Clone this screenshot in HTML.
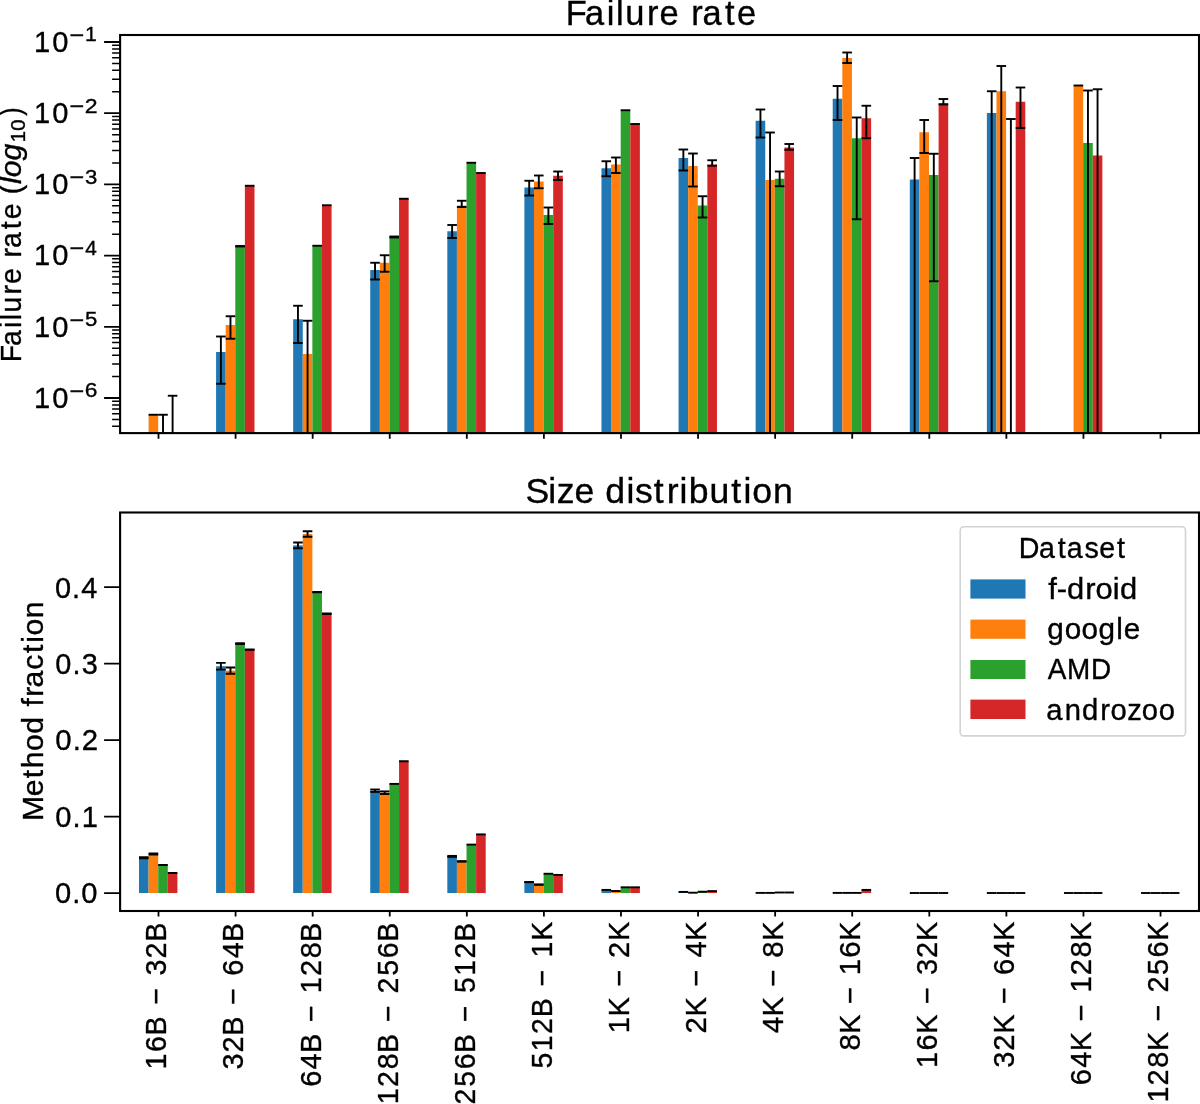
<!DOCTYPE html><html><head><meta charset="utf-8"><style>html,body{margin:0;padding:0;background:#fff;}svg{display:block;will-change:transform;}text{font-family:"Liberation Sans",sans-serif;font-kerning:none;fill:#000;stroke:#000;stroke-width:0.35px;}</style></head><body>
<svg width="1200" height="1104" viewBox="0 0 1200 1104">
<rect width="1200" height="1104" fill="#fff"/>
<defs><clipPath id="ct"><rect x="120.1" y="35.0" width="1078.9" height="398.1"/></clipPath><clipPath id="cb"><rect x="120.1" y="512.5" width="1078.9" height="398.5"/></clipPath></defs>
<g clip-path="url(#ct)">
<rect x="148.60" y="414.75" width="9.6" height="23.35" fill="#ff7f0e"/>
<rect x="216.08" y="352.00" width="9.6" height="86.10" fill="#1f77b4"/>
<rect x="225.68" y="325.00" width="9.6" height="113.10" fill="#ff7f0e"/>
<rect x="235.28" y="246.25" width="9.6" height="191.85" fill="#2ca02c"/>
<rect x="244.88" y="185.75" width="9.6" height="252.35" fill="#d62728"/>
<rect x="293.16" y="319.25" width="9.6" height="118.85" fill="#1f77b4"/>
<rect x="302.76" y="354.00" width="9.6" height="84.10" fill="#ff7f0e"/>
<rect x="312.36" y="245.75" width="9.6" height="192.35" fill="#2ca02c"/>
<rect x="321.96" y="205.25" width="9.6" height="232.85" fill="#d62728"/>
<rect x="370.24" y="270.00" width="9.6" height="168.10" fill="#1f77b4"/>
<rect x="379.84" y="262.75" width="9.6" height="175.35" fill="#ff7f0e"/>
<rect x="389.44" y="237.00" width="9.6" height="201.10" fill="#2ca02c"/>
<rect x="399.04" y="198.75" width="9.6" height="239.35" fill="#d62728"/>
<rect x="447.32" y="231.25" width="9.6" height="206.85" fill="#1f77b4"/>
<rect x="456.92" y="205.50" width="9.6" height="232.60" fill="#ff7f0e"/>
<rect x="466.52" y="162.75" width="9.6" height="275.35" fill="#2ca02c"/>
<rect x="476.12" y="173.00" width="9.6" height="265.10" fill="#d62728"/>
<rect x="524.40" y="187.50" width="9.6" height="250.60" fill="#1f77b4"/>
<rect x="534.00" y="181.50" width="9.6" height="256.60" fill="#ff7f0e"/>
<rect x="543.60" y="215.00" width="9.6" height="223.10" fill="#2ca02c"/>
<rect x="553.20" y="175.75" width="9.6" height="262.35" fill="#d62728"/>
<rect x="601.48" y="168.25" width="9.6" height="269.85" fill="#1f77b4"/>
<rect x="611.08" y="164.50" width="9.6" height="273.60" fill="#ff7f0e"/>
<rect x="620.68" y="110.25" width="9.6" height="327.85" fill="#2ca02c"/>
<rect x="630.28" y="124.00" width="9.6" height="314.10" fill="#d62728"/>
<rect x="678.56" y="158.00" width="9.6" height="280.10" fill="#1f77b4"/>
<rect x="688.16" y="166.00" width="9.6" height="272.10" fill="#ff7f0e"/>
<rect x="697.76" y="205.50" width="9.6" height="232.60" fill="#2ca02c"/>
<rect x="707.36" y="164.50" width="9.6" height="273.60" fill="#d62728"/>
<rect x="755.64" y="120.75" width="9.6" height="317.35" fill="#1f77b4"/>
<rect x="765.24" y="180.00" width="9.6" height="258.10" fill="#ff7f0e"/>
<rect x="774.84" y="178.75" width="9.6" height="259.35" fill="#2ca02c"/>
<rect x="784.44" y="147.50" width="9.6" height="290.60" fill="#d62728"/>
<rect x="832.72" y="98.75" width="9.6" height="339.35" fill="#1f77b4"/>
<rect x="842.32" y="58.00" width="9.6" height="380.10" fill="#ff7f0e"/>
<rect x="851.92" y="138.25" width="9.6" height="299.85" fill="#2ca02c"/>
<rect x="861.52" y="118.25" width="9.6" height="319.85" fill="#d62728"/>
<rect x="909.80" y="179.50" width="9.6" height="258.60" fill="#1f77b4"/>
<rect x="919.40" y="132.25" width="9.6" height="305.85" fill="#ff7f0e"/>
<rect x="929.00" y="175.00" width="9.6" height="263.10" fill="#2ca02c"/>
<rect x="938.60" y="103.00" width="9.6" height="335.10" fill="#d62728"/>
<rect x="986.88" y="113.00" width="9.6" height="325.10" fill="#1f77b4"/>
<rect x="996.48" y="91.25" width="9.6" height="346.85" fill="#ff7f0e"/>
<rect x="1015.68" y="101.75" width="9.6" height="336.35" fill="#d62728"/>
<rect x="1073.56" y="85.50" width="9.6" height="352.60" fill="#ff7f0e"/>
<rect x="1083.16" y="143.00" width="9.6" height="295.10" fill="#2ca02c"/>
<rect x="1092.76" y="155.50" width="9.6" height="282.60" fill="#d62728"/>
<line x1="148.60" y1="414.75" x2="158.20" y2="414.75" stroke="#000" stroke-width="1.9"/>
<line x1="163.00" y1="414.75" x2="163.00" y2="438.10" stroke="#000" stroke-width="1.9"/>
<line x1="158.20" y1="414.75" x2="167.80" y2="414.75" stroke="#000" stroke-width="1.9"/>
<line x1="172.60" y1="395.75" x2="172.60" y2="438.10" stroke="#000" stroke-width="1.9"/>
<line x1="167.80" y1="395.75" x2="177.40" y2="395.75" stroke="#000" stroke-width="1.9"/>
<line x1="220.88" y1="336.50" x2="220.88" y2="383.75" stroke="#000" stroke-width="1.9"/>
<line x1="216.08" y1="336.50" x2="225.68" y2="336.50" stroke="#000" stroke-width="1.9"/>
<line x1="216.08" y1="383.75" x2="225.68" y2="383.75" stroke="#000" stroke-width="1.9"/>
<line x1="230.48" y1="316.25" x2="230.48" y2="338.75" stroke="#000" stroke-width="1.9"/>
<line x1="225.68" y1="316.25" x2="235.28" y2="316.25" stroke="#000" stroke-width="1.9"/>
<line x1="225.68" y1="338.75" x2="235.28" y2="338.75" stroke="#000" stroke-width="1.9"/>
<line x1="235.28" y1="246.00" x2="244.88" y2="246.00" stroke="#000" stroke-width="1.9"/>
<line x1="235.28" y1="246.50" x2="244.88" y2="246.50" stroke="#000" stroke-width="1.9"/>
<line x1="244.88" y1="185.75" x2="254.48" y2="185.75" stroke="#000" stroke-width="1.9"/>
<line x1="297.96" y1="305.75" x2="297.96" y2="343.00" stroke="#000" stroke-width="1.9"/>
<line x1="293.16" y1="305.75" x2="302.76" y2="305.75" stroke="#000" stroke-width="1.9"/>
<line x1="293.16" y1="343.00" x2="302.76" y2="343.00" stroke="#000" stroke-width="1.9"/>
<line x1="307.56" y1="320.75" x2="307.56" y2="438.10" stroke="#000" stroke-width="1.9"/>
<line x1="302.76" y1="320.75" x2="312.36" y2="320.75" stroke="#000" stroke-width="1.9"/>
<line x1="312.36" y1="245.75" x2="321.96" y2="245.75" stroke="#000" stroke-width="1.9"/>
<line x1="321.96" y1="205.25" x2="331.56" y2="205.25" stroke="#000" stroke-width="1.9"/>
<line x1="375.04" y1="262.75" x2="375.04" y2="279.50" stroke="#000" stroke-width="1.9"/>
<line x1="370.24" y1="262.75" x2="379.84" y2="262.75" stroke="#000" stroke-width="1.9"/>
<line x1="370.24" y1="279.50" x2="379.84" y2="279.50" stroke="#000" stroke-width="1.9"/>
<line x1="384.64" y1="255.25" x2="384.64" y2="271.75" stroke="#000" stroke-width="1.9"/>
<line x1="379.84" y1="255.25" x2="389.44" y2="255.25" stroke="#000" stroke-width="1.9"/>
<line x1="379.84" y1="271.75" x2="389.44" y2="271.75" stroke="#000" stroke-width="1.9"/>
<line x1="394.24" y1="236.50" x2="394.24" y2="237.50" stroke="#000" stroke-width="1.9"/>
<line x1="389.44" y1="236.50" x2="399.04" y2="236.50" stroke="#000" stroke-width="1.9"/>
<line x1="389.44" y1="237.50" x2="399.04" y2="237.50" stroke="#000" stroke-width="1.9"/>
<line x1="399.04" y1="198.75" x2="408.64" y2="198.75" stroke="#000" stroke-width="1.9"/>
<line x1="452.12" y1="225.00" x2="452.12" y2="238.00" stroke="#000" stroke-width="1.9"/>
<line x1="447.32" y1="225.00" x2="456.92" y2="225.00" stroke="#000" stroke-width="1.9"/>
<line x1="447.32" y1="238.00" x2="456.92" y2="238.00" stroke="#000" stroke-width="1.9"/>
<line x1="461.72" y1="200.75" x2="461.72" y2="207.00" stroke="#000" stroke-width="1.9"/>
<line x1="456.92" y1="200.75" x2="466.52" y2="200.75" stroke="#000" stroke-width="1.9"/>
<line x1="456.92" y1="207.00" x2="466.52" y2="207.00" stroke="#000" stroke-width="1.9"/>
<line x1="466.52" y1="162.75" x2="476.12" y2="162.75" stroke="#000" stroke-width="1.9"/>
<line x1="476.12" y1="173.00" x2="485.72" y2="173.00" stroke="#000" stroke-width="1.9"/>
<line x1="529.20" y1="180.75" x2="529.20" y2="195.50" stroke="#000" stroke-width="1.9"/>
<line x1="524.40" y1="180.75" x2="534.00" y2="180.75" stroke="#000" stroke-width="1.9"/>
<line x1="524.40" y1="195.50" x2="534.00" y2="195.50" stroke="#000" stroke-width="1.9"/>
<line x1="538.80" y1="175.50" x2="538.80" y2="188.25" stroke="#000" stroke-width="1.9"/>
<line x1="534.00" y1="175.50" x2="543.60" y2="175.50" stroke="#000" stroke-width="1.9"/>
<line x1="534.00" y1="188.25" x2="543.60" y2="188.25" stroke="#000" stroke-width="1.9"/>
<line x1="548.40" y1="207.50" x2="548.40" y2="224.00" stroke="#000" stroke-width="1.9"/>
<line x1="543.60" y1="207.50" x2="553.20" y2="207.50" stroke="#000" stroke-width="1.9"/>
<line x1="543.60" y1="224.00" x2="553.20" y2="224.00" stroke="#000" stroke-width="1.9"/>
<line x1="558.00" y1="171.50" x2="558.00" y2="180.00" stroke="#000" stroke-width="1.9"/>
<line x1="553.20" y1="171.50" x2="562.80" y2="171.50" stroke="#000" stroke-width="1.9"/>
<line x1="553.20" y1="180.00" x2="562.80" y2="180.00" stroke="#000" stroke-width="1.9"/>
<line x1="606.28" y1="161.25" x2="606.28" y2="176.25" stroke="#000" stroke-width="1.9"/>
<line x1="601.48" y1="161.25" x2="611.08" y2="161.25" stroke="#000" stroke-width="1.9"/>
<line x1="601.48" y1="176.25" x2="611.08" y2="176.25" stroke="#000" stroke-width="1.9"/>
<line x1="615.88" y1="157.50" x2="615.88" y2="173.00" stroke="#000" stroke-width="1.9"/>
<line x1="611.08" y1="157.50" x2="620.68" y2="157.50" stroke="#000" stroke-width="1.9"/>
<line x1="611.08" y1="173.00" x2="620.68" y2="173.00" stroke="#000" stroke-width="1.9"/>
<line x1="620.68" y1="110.25" x2="630.28" y2="110.25" stroke="#000" stroke-width="1.9"/>
<line x1="630.28" y1="124.00" x2="639.88" y2="124.00" stroke="#000" stroke-width="1.9"/>
<line x1="683.36" y1="149.50" x2="683.36" y2="170.50" stroke="#000" stroke-width="1.9"/>
<line x1="678.56" y1="149.50" x2="688.16" y2="149.50" stroke="#000" stroke-width="1.9"/>
<line x1="678.56" y1="170.50" x2="688.16" y2="170.50" stroke="#000" stroke-width="1.9"/>
<line x1="692.96" y1="153.50" x2="692.96" y2="186.50" stroke="#000" stroke-width="1.9"/>
<line x1="688.16" y1="153.50" x2="697.76" y2="153.50" stroke="#000" stroke-width="1.9"/>
<line x1="688.16" y1="186.50" x2="697.76" y2="186.50" stroke="#000" stroke-width="1.9"/>
<line x1="702.56" y1="196.25" x2="702.56" y2="217.50" stroke="#000" stroke-width="1.9"/>
<line x1="697.76" y1="196.25" x2="707.36" y2="196.25" stroke="#000" stroke-width="1.9"/>
<line x1="697.76" y1="217.50" x2="707.36" y2="217.50" stroke="#000" stroke-width="1.9"/>
<line x1="712.16" y1="160.25" x2="712.16" y2="165.75" stroke="#000" stroke-width="1.9"/>
<line x1="707.36" y1="160.25" x2="716.96" y2="160.25" stroke="#000" stroke-width="1.9"/>
<line x1="707.36" y1="165.75" x2="716.96" y2="165.75" stroke="#000" stroke-width="1.9"/>
<line x1="760.44" y1="109.50" x2="760.44" y2="137.50" stroke="#000" stroke-width="1.9"/>
<line x1="755.64" y1="109.50" x2="765.24" y2="109.50" stroke="#000" stroke-width="1.9"/>
<line x1="755.64" y1="137.50" x2="765.24" y2="137.50" stroke="#000" stroke-width="1.9"/>
<line x1="770.04" y1="132.50" x2="770.04" y2="438.10" stroke="#000" stroke-width="1.9"/>
<line x1="765.24" y1="132.50" x2="774.84" y2="132.50" stroke="#000" stroke-width="1.9"/>
<line x1="779.64" y1="171.50" x2="779.64" y2="186.25" stroke="#000" stroke-width="1.9"/>
<line x1="774.84" y1="171.50" x2="784.44" y2="171.50" stroke="#000" stroke-width="1.9"/>
<line x1="774.84" y1="186.25" x2="784.44" y2="186.25" stroke="#000" stroke-width="1.9"/>
<line x1="789.24" y1="144.00" x2="789.24" y2="149.75" stroke="#000" stroke-width="1.9"/>
<line x1="784.44" y1="144.00" x2="794.04" y2="144.00" stroke="#000" stroke-width="1.9"/>
<line x1="784.44" y1="149.75" x2="794.04" y2="149.75" stroke="#000" stroke-width="1.9"/>
<line x1="837.52" y1="86.00" x2="837.52" y2="120.00" stroke="#000" stroke-width="1.9"/>
<line x1="832.72" y1="86.00" x2="842.32" y2="86.00" stroke="#000" stroke-width="1.9"/>
<line x1="832.72" y1="120.00" x2="842.32" y2="120.00" stroke="#000" stroke-width="1.9"/>
<line x1="847.12" y1="52.50" x2="847.12" y2="63.00" stroke="#000" stroke-width="1.9"/>
<line x1="842.32" y1="52.50" x2="851.92" y2="52.50" stroke="#000" stroke-width="1.9"/>
<line x1="842.32" y1="63.00" x2="851.92" y2="63.00" stroke="#000" stroke-width="1.9"/>
<line x1="856.72" y1="117.50" x2="856.72" y2="219.25" stroke="#000" stroke-width="1.9"/>
<line x1="851.92" y1="117.50" x2="861.52" y2="117.50" stroke="#000" stroke-width="1.9"/>
<line x1="851.92" y1="219.25" x2="861.52" y2="219.25" stroke="#000" stroke-width="1.9"/>
<line x1="866.32" y1="105.75" x2="866.32" y2="138.25" stroke="#000" stroke-width="1.9"/>
<line x1="861.52" y1="105.75" x2="871.12" y2="105.75" stroke="#000" stroke-width="1.9"/>
<line x1="861.52" y1="138.25" x2="871.12" y2="138.25" stroke="#000" stroke-width="1.9"/>
<line x1="914.60" y1="158.00" x2="914.60" y2="438.10" stroke="#000" stroke-width="1.9"/>
<line x1="909.80" y1="158.00" x2="919.40" y2="158.00" stroke="#000" stroke-width="1.9"/>
<line x1="924.20" y1="120.00" x2="924.20" y2="153.00" stroke="#000" stroke-width="1.9"/>
<line x1="919.40" y1="120.00" x2="929.00" y2="120.00" stroke="#000" stroke-width="1.9"/>
<line x1="919.40" y1="153.00" x2="929.00" y2="153.00" stroke="#000" stroke-width="1.9"/>
<line x1="933.80" y1="153.75" x2="933.80" y2="281.25" stroke="#000" stroke-width="1.9"/>
<line x1="929.00" y1="153.75" x2="938.60" y2="153.75" stroke="#000" stroke-width="1.9"/>
<line x1="929.00" y1="281.25" x2="938.60" y2="281.25" stroke="#000" stroke-width="1.9"/>
<line x1="943.40" y1="99.00" x2="943.40" y2="104.50" stroke="#000" stroke-width="1.9"/>
<line x1="938.60" y1="99.00" x2="948.20" y2="99.00" stroke="#000" stroke-width="1.9"/>
<line x1="938.60" y1="104.50" x2="948.20" y2="104.50" stroke="#000" stroke-width="1.9"/>
<line x1="991.68" y1="91.25" x2="991.68" y2="438.10" stroke="#000" stroke-width="1.9"/>
<line x1="986.88" y1="91.25" x2="996.48" y2="91.25" stroke="#000" stroke-width="1.9"/>
<line x1="1001.28" y1="66.00" x2="1001.28" y2="438.10" stroke="#000" stroke-width="1.9"/>
<line x1="996.48" y1="66.00" x2="1006.08" y2="66.00" stroke="#000" stroke-width="1.9"/>
<line x1="1010.88" y1="119.00" x2="1010.88" y2="438.10" stroke="#000" stroke-width="1.9"/>
<line x1="1006.08" y1="119.00" x2="1015.68" y2="119.00" stroke="#000" stroke-width="1.9"/>
<line x1="1020.48" y1="87.50" x2="1020.48" y2="128.00" stroke="#000" stroke-width="1.9"/>
<line x1="1015.68" y1="87.50" x2="1025.28" y2="87.50" stroke="#000" stroke-width="1.9"/>
<line x1="1015.68" y1="128.00" x2="1025.28" y2="128.00" stroke="#000" stroke-width="1.9"/>
<line x1="1073.56" y1="85.50" x2="1083.16" y2="85.50" stroke="#000" stroke-width="1.9"/>
<line x1="1087.96" y1="90.50" x2="1087.96" y2="438.10" stroke="#000" stroke-width="1.9"/>
<line x1="1083.16" y1="90.50" x2="1092.76" y2="90.50" stroke="#000" stroke-width="1.9"/>
<line x1="1097.56" y1="89.25" x2="1097.56" y2="438.10" stroke="#000" stroke-width="1.9"/>
<line x1="1092.76" y1="89.25" x2="1102.36" y2="89.25" stroke="#000" stroke-width="1.9"/>
</g>
<g clip-path="url(#cb)">
<rect x="139.00" y="857.80" width="9.6" height="35.24" fill="#1f77b4"/>
<rect x="148.60" y="854.00" width="9.6" height="39.04" fill="#ff7f0e"/>
<rect x="158.20" y="865.00" width="9.6" height="28.04" fill="#2ca02c"/>
<rect x="167.80" y="873.00" width="9.6" height="20.04" fill="#d62728"/>
<rect x="216.08" y="666.25" width="9.6" height="226.79" fill="#1f77b4"/>
<rect x="225.68" y="670.60" width="9.6" height="222.44" fill="#ff7f0e"/>
<rect x="235.28" y="643.60" width="9.6" height="249.44" fill="#2ca02c"/>
<rect x="244.88" y="649.60" width="9.6" height="243.44" fill="#d62728"/>
<rect x="293.16" y="545.40" width="9.6" height="347.64" fill="#1f77b4"/>
<rect x="302.76" y="534.00" width="9.6" height="359.04" fill="#ff7f0e"/>
<rect x="312.36" y="592.20" width="9.6" height="300.84" fill="#2ca02c"/>
<rect x="321.96" y="613.75" width="9.6" height="279.29" fill="#d62728"/>
<rect x="370.24" y="790.70" width="9.6" height="102.34" fill="#1f77b4"/>
<rect x="379.84" y="792.70" width="9.6" height="100.34" fill="#ff7f0e"/>
<rect x="389.44" y="783.90" width="9.6" height="109.14" fill="#2ca02c"/>
<rect x="399.04" y="761.20" width="9.6" height="131.84" fill="#d62728"/>
<rect x="447.32" y="856.40" width="9.6" height="36.64" fill="#1f77b4"/>
<rect x="456.92" y="861.40" width="9.6" height="31.64" fill="#ff7f0e"/>
<rect x="466.52" y="844.60" width="9.6" height="48.44" fill="#2ca02c"/>
<rect x="476.12" y="834.40" width="9.6" height="58.64" fill="#d62728"/>
<rect x="524.40" y="882.10" width="9.6" height="10.94" fill="#1f77b4"/>
<rect x="534.00" y="884.60" width="9.6" height="8.44" fill="#ff7f0e"/>
<rect x="543.60" y="873.75" width="9.6" height="19.29" fill="#2ca02c"/>
<rect x="553.20" y="874.90" width="9.6" height="18.14" fill="#d62728"/>
<rect x="601.48" y="889.90" width="9.6" height="3.14" fill="#1f77b4"/>
<rect x="611.08" y="891.00" width="9.6" height="2.04" fill="#ff7f0e"/>
<rect x="620.68" y="887.30" width="9.6" height="5.74" fill="#2ca02c"/>
<rect x="630.28" y="887.30" width="9.6" height="5.74" fill="#d62728"/>
<rect x="678.56" y="891.90" width="9.6" height="1.14" fill="#1f77b4"/>
<rect x="688.16" y="892.70" width="9.6" height="0.34" fill="#ff7f0e"/>
<rect x="697.76" y="891.70" width="9.6" height="1.34" fill="#2ca02c"/>
<rect x="707.36" y="891.10" width="9.6" height="1.94" fill="#d62728"/>
<rect x="755.64" y="892.90" width="9.6" height="0.14" fill="#1f77b4"/>
<rect x="765.24" y="892.90" width="9.6" height="0.14" fill="#ff7f0e"/>
<rect x="774.84" y="892.50" width="9.6" height="0.54" fill="#2ca02c"/>
<rect x="784.44" y="892.50" width="9.6" height="0.54" fill="#d62728"/>
<rect x="832.72" y="892.90" width="9.6" height="0.14" fill="#1f77b4"/>
<rect x="842.32" y="892.90" width="9.6" height="0.14" fill="#ff7f0e"/>
<rect x="851.92" y="892.90" width="9.6" height="0.14" fill="#2ca02c"/>
<rect x="861.52" y="889.90" width="9.6" height="3.14" fill="#d62728"/>
<line x1="143.80" y1="857.30" x2="143.80" y2="858.30" stroke="#000" stroke-width="1.9"/>
<line x1="139.00" y1="857.30" x2="148.60" y2="857.30" stroke="#000" stroke-width="1.9"/>
<line x1="139.00" y1="858.30" x2="148.60" y2="858.30" stroke="#000" stroke-width="1.9"/>
<line x1="153.40" y1="853.50" x2="153.40" y2="854.50" stroke="#000" stroke-width="1.9"/>
<line x1="148.60" y1="853.50" x2="158.20" y2="853.50" stroke="#000" stroke-width="1.9"/>
<line x1="148.60" y1="854.50" x2="158.20" y2="854.50" stroke="#000" stroke-width="1.9"/>
<line x1="158.20" y1="865.00" x2="167.80" y2="865.00" stroke="#000" stroke-width="1.9"/>
<line x1="167.80" y1="873.00" x2="177.40" y2="873.00" stroke="#000" stroke-width="1.9"/>
<line x1="220.88" y1="662.90" x2="220.88" y2="669.60" stroke="#000" stroke-width="1.9"/>
<line x1="216.08" y1="662.90" x2="225.68" y2="662.90" stroke="#000" stroke-width="1.9"/>
<line x1="216.08" y1="669.60" x2="225.68" y2="669.60" stroke="#000" stroke-width="1.9"/>
<line x1="230.48" y1="667.50" x2="230.48" y2="673.70" stroke="#000" stroke-width="1.9"/>
<line x1="225.68" y1="667.50" x2="235.28" y2="667.50" stroke="#000" stroke-width="1.9"/>
<line x1="225.68" y1="673.70" x2="235.28" y2="673.70" stroke="#000" stroke-width="1.9"/>
<line x1="240.08" y1="643.20" x2="240.08" y2="644.00" stroke="#000" stroke-width="1.9"/>
<line x1="235.28" y1="643.20" x2="244.88" y2="643.20" stroke="#000" stroke-width="1.9"/>
<line x1="235.28" y1="644.00" x2="244.88" y2="644.00" stroke="#000" stroke-width="1.9"/>
<line x1="244.88" y1="649.35" x2="254.48" y2="649.35" stroke="#000" stroke-width="1.9"/>
<line x1="244.88" y1="649.85" x2="254.48" y2="649.85" stroke="#000" stroke-width="1.9"/>
<line x1="297.96" y1="542.50" x2="297.96" y2="548.30" stroke="#000" stroke-width="1.9"/>
<line x1="293.16" y1="542.50" x2="302.76" y2="542.50" stroke="#000" stroke-width="1.9"/>
<line x1="293.16" y1="548.30" x2="302.76" y2="548.30" stroke="#000" stroke-width="1.9"/>
<line x1="307.56" y1="531.25" x2="307.56" y2="536.75" stroke="#000" stroke-width="1.9"/>
<line x1="302.76" y1="531.25" x2="312.36" y2="531.25" stroke="#000" stroke-width="1.9"/>
<line x1="302.76" y1="536.75" x2="312.36" y2="536.75" stroke="#000" stroke-width="1.9"/>
<line x1="312.36" y1="592.05" x2="321.96" y2="592.05" stroke="#000" stroke-width="1.9"/>
<line x1="312.36" y1="592.35" x2="321.96" y2="592.35" stroke="#000" stroke-width="1.9"/>
<line x1="326.76" y1="613.40" x2="326.76" y2="614.10" stroke="#000" stroke-width="1.9"/>
<line x1="321.96" y1="613.40" x2="331.56" y2="613.40" stroke="#000" stroke-width="1.9"/>
<line x1="321.96" y1="614.10" x2="331.56" y2="614.10" stroke="#000" stroke-width="1.9"/>
<line x1="375.04" y1="789.50" x2="375.04" y2="791.90" stroke="#000" stroke-width="1.9"/>
<line x1="370.24" y1="789.50" x2="379.84" y2="789.50" stroke="#000" stroke-width="1.9"/>
<line x1="370.24" y1="791.90" x2="379.84" y2="791.90" stroke="#000" stroke-width="1.9"/>
<line x1="384.64" y1="791.40" x2="384.64" y2="794.00" stroke="#000" stroke-width="1.9"/>
<line x1="379.84" y1="791.40" x2="389.44" y2="791.40" stroke="#000" stroke-width="1.9"/>
<line x1="379.84" y1="794.00" x2="389.44" y2="794.00" stroke="#000" stroke-width="1.9"/>
<line x1="389.44" y1="783.90" x2="399.04" y2="783.90" stroke="#000" stroke-width="1.9"/>
<line x1="399.04" y1="761.20" x2="408.64" y2="761.20" stroke="#000" stroke-width="1.9"/>
<line x1="452.12" y1="855.90" x2="452.12" y2="856.90" stroke="#000" stroke-width="1.9"/>
<line x1="447.32" y1="855.90" x2="456.92" y2="855.90" stroke="#000" stroke-width="1.9"/>
<line x1="447.32" y1="856.90" x2="456.92" y2="856.90" stroke="#000" stroke-width="1.9"/>
<line x1="456.92" y1="861.20" x2="466.52" y2="861.20" stroke="#000" stroke-width="1.9"/>
<line x1="456.92" y1="861.60" x2="466.52" y2="861.60" stroke="#000" stroke-width="1.9"/>
<line x1="466.52" y1="844.60" x2="476.12" y2="844.60" stroke="#000" stroke-width="1.9"/>
<line x1="476.12" y1="834.40" x2="485.72" y2="834.40" stroke="#000" stroke-width="1.9"/>
<line x1="524.40" y1="882.00" x2="534.00" y2="882.00" stroke="#000" stroke-width="1.9"/>
<line x1="524.40" y1="882.20" x2="534.00" y2="882.20" stroke="#000" stroke-width="1.9"/>
<line x1="534.00" y1="884.50" x2="543.60" y2="884.50" stroke="#000" stroke-width="1.9"/>
<line x1="534.00" y1="884.70" x2="543.60" y2="884.70" stroke="#000" stroke-width="1.9"/>
<line x1="543.60" y1="873.75" x2="553.20" y2="873.75" stroke="#000" stroke-width="1.9"/>
<line x1="553.20" y1="874.90" x2="562.80" y2="874.90" stroke="#000" stroke-width="1.9"/>
<line x1="601.48" y1="889.90" x2="611.08" y2="889.90" stroke="#000" stroke-width="1.9"/>
<line x1="611.08" y1="891.00" x2="620.68" y2="891.00" stroke="#000" stroke-width="1.9"/>
<line x1="620.68" y1="887.30" x2="630.28" y2="887.30" stroke="#000" stroke-width="1.9"/>
<line x1="630.28" y1="887.30" x2="639.88" y2="887.30" stroke="#000" stroke-width="1.9"/>
<line x1="678.56" y1="891.90" x2="688.16" y2="891.90" stroke="#000" stroke-width="1.9"/>
<line x1="688.16" y1="892.70" x2="697.76" y2="892.70" stroke="#000" stroke-width="1.9"/>
<line x1="697.76" y1="891.70" x2="707.36" y2="891.70" stroke="#000" stroke-width="1.9"/>
<line x1="707.36" y1="891.10" x2="716.96" y2="891.10" stroke="#000" stroke-width="1.9"/>
<line x1="755.64" y1="892.90" x2="765.24" y2="892.90" stroke="#000" stroke-width="1.9"/>
<line x1="765.24" y1="892.90" x2="774.84" y2="892.90" stroke="#000" stroke-width="1.9"/>
<line x1="774.84" y1="892.50" x2="784.44" y2="892.50" stroke="#000" stroke-width="1.9"/>
<line x1="784.44" y1="892.50" x2="794.04" y2="892.50" stroke="#000" stroke-width="1.9"/>
<line x1="832.72" y1="892.90" x2="842.32" y2="892.90" stroke="#000" stroke-width="1.9"/>
<line x1="842.32" y1="892.90" x2="851.92" y2="892.90" stroke="#000" stroke-width="1.9"/>
<line x1="851.92" y1="892.90" x2="861.52" y2="892.90" stroke="#000" stroke-width="1.9"/>
<line x1="861.52" y1="889.90" x2="871.12" y2="889.90" stroke="#000" stroke-width="1.9"/>
<line x1="909.80" y1="893.00" x2="919.40" y2="893.00" stroke="#000" stroke-width="1.9"/>
<line x1="919.40" y1="893.00" x2="929.00" y2="893.00" stroke="#000" stroke-width="1.9"/>
<line x1="929.00" y1="893.00" x2="938.60" y2="893.00" stroke="#000" stroke-width="1.9"/>
<line x1="938.60" y1="893.00" x2="948.20" y2="893.00" stroke="#000" stroke-width="1.9"/>
<line x1="986.88" y1="893.00" x2="996.48" y2="893.00" stroke="#000" stroke-width="1.9"/>
<line x1="996.48" y1="893.00" x2="1006.08" y2="893.00" stroke="#000" stroke-width="1.9"/>
<line x1="1006.08" y1="893.00" x2="1015.68" y2="893.00" stroke="#000" stroke-width="1.9"/>
<line x1="1015.68" y1="893.00" x2="1025.28" y2="893.00" stroke="#000" stroke-width="1.9"/>
<line x1="1063.96" y1="893.00" x2="1073.56" y2="893.00" stroke="#000" stroke-width="1.9"/>
<line x1="1073.56" y1="893.00" x2="1083.16" y2="893.00" stroke="#000" stroke-width="1.9"/>
<line x1="1083.16" y1="893.00" x2="1092.76" y2="893.00" stroke="#000" stroke-width="1.9"/>
<line x1="1092.76" y1="893.00" x2="1102.36" y2="893.00" stroke="#000" stroke-width="1.9"/>
<line x1="1141.04" y1="893.00" x2="1150.64" y2="893.00" stroke="#000" stroke-width="1.9"/>
<line x1="1150.64" y1="893.00" x2="1160.24" y2="893.00" stroke="#000" stroke-width="1.9"/>
<line x1="1160.24" y1="893.00" x2="1169.84" y2="893.00" stroke="#000" stroke-width="1.9"/>
<line x1="1169.84" y1="893.00" x2="1179.44" y2="893.00" stroke="#000" stroke-width="1.9"/>
</g>
<rect x="120.1" y="35.0" width="1078.9" height="398.1" fill="none" stroke="#000" stroke-width="2.1" stroke-linecap="square"/>
<rect x="120.1" y="512.5" width="1078.9" height="398.5" fill="none" stroke="#000" stroke-width="2.1" stroke-linecap="square"/>
<path d="M104.10 42.00H120.10M104.10 113.20H120.10M104.10 184.40H120.10M104.10 255.60H120.10M104.10 326.80H120.10M104.10 398.00H120.10" stroke="#000" stroke-width="1.8" fill="none"/>
<path d="M112.10 91.77H120.10M112.10 79.23H120.10M112.10 70.33H120.10M112.10 63.43H120.10M112.10 57.80H120.10M112.10 53.03H120.10M112.10 48.90H120.10M112.10 45.26H120.10M112.10 162.97H120.10M112.10 150.43H120.10M112.10 141.53H120.10M112.10 134.63H120.10M112.10 129.00H120.10M112.10 124.23H120.10M112.10 120.10H120.10M112.10 116.46H120.10M112.10 234.17H120.10M112.10 221.63H120.10M112.10 212.73H120.10M112.10 205.83H120.10M112.10 200.20H120.10M112.10 195.43H120.10M112.10 191.30H120.10M112.10 187.66H120.10M112.10 305.37H120.10M112.10 292.83H120.10M112.10 283.93H120.10M112.10 277.03H120.10M112.10 271.40H120.10M112.10 266.63H120.10M112.10 262.50H120.10M112.10 258.86H120.10M112.10 376.57H120.10M112.10 364.03H120.10M112.10 355.13H120.10M112.10 348.23H120.10M112.10 342.60H120.10M112.10 337.83H120.10M112.10 333.70H120.10M112.10 330.06H120.10M112.10 426.33H120.10M112.10 419.43H120.10M112.10 413.80H120.10M112.10 409.03H120.10M112.10 404.90H120.10M112.10 401.26H120.10" stroke="#000" stroke-width="1.5" fill="none"/>
<path d="M104.10 893.04H120.10M104.10 816.55H120.10M104.10 740.07H120.10M104.10 663.59H120.10M104.10 587.10H120.10" stroke="#000" stroke-width="1.8" fill="none"/>
<path d="M158.50 433.10V438.80M158.50 911.00V916.50M235.58 433.10V438.80M235.58 911.00V916.50M312.66 433.10V438.80M312.66 911.00V916.50M389.74 433.10V438.80M389.74 911.00V916.50M466.82 433.10V438.80M466.82 911.00V916.50M543.90 433.10V438.80M543.90 911.00V916.50M620.98 433.10V438.80M620.98 911.00V916.50M698.06 433.10V438.80M698.06 911.00V916.50M775.14 433.10V438.80M775.14 911.00V916.50M852.22 433.10V438.80M852.22 911.00V916.50M929.30 433.10V438.80M929.30 911.00V916.50M1006.38 433.10V438.80M1006.38 911.00V916.50M1083.46 433.10V438.80M1083.46 911.00V916.50M1160.54 433.10V438.80M1160.54 911.00V916.50" stroke="#000" stroke-width="1.8" fill="none"/>
<g>
<text transform="translate(0,25.10) scale(0.9874,1)" x="572.87 592.50 614.50 623.77 633.12 655.21 667.90 687.31 700.17 711.49 734.32 746.47" font-size="34.90">Failure rate</text>
<text transform="translate(0,502.60) scale(1.0207,1)" x="514.84 537.20 545.49 562.85 582.26 593.11 613.90 622.19 640.52 653.24 665.73 674.84 695.10 716.54 728.45 737.01 757.22" font-size="34.90">Size distribution</text>
<text transform="translate(21.20,0) rotate(-90) scale(0.9625,1)" x="-376.31 -359.52 -340.77 -332.83 -324.77 -305.89 -295.00 -278.60 -267.42 -257.68 -238.20 -227.76 -211.35 -201.78" font-size="29.50">Failure rate (</text>
<text transform="translate(21.20,183.99) rotate(-90) scale(1.0276,1)" font-size="29.50" font-style="italic">log</text>
<text transform="translate(25.30,142.15) rotate(-90) scale(1.0129,1)" font-size="20.10">10</text>
<text transform="translate(21.20,115.65) rotate(-90) scale(0.8566,1)" font-size="29.50">)</text>
<text transform="translate(43.00,0) rotate(-90) scale(1.0159,1)" x="-808.17 -783.85 -766.10 -756.15 -739.16 -722.31 -705.79 -695.54 -685.79 -676.68 -659.27 -642.86 -632.80 -625.63 -608.59" font-size="29.70">Method fraction</text>
<text transform="translate(0,51.80) scale(0.9959,1)" x="34.27 52.42" font-size="29.20">10</text>
<text transform="translate(69.56,41.80) scale(1.2249,1)" font-size="20.50">−</text>
<text transform="translate(85.09,41.40) scale(1.0296,1)" font-size="20.50">1</text>
<text transform="translate(0,123.00) scale(0.9959,1)" x="34.27 52.42" font-size="29.20">10</text>
<text transform="translate(69.56,113.00) scale(1.2249,1)" font-size="20.50">−</text>
<text transform="translate(84.64,112.60) scale(1.1243,1)" font-size="20.50">2</text>
<text transform="translate(0,194.20) scale(0.9959,1)" x="34.27 52.42" font-size="29.20">10</text>
<text transform="translate(69.56,184.20) scale(1.2249,1)" font-size="20.50">−</text>
<text transform="translate(84.96,183.80) scale(1.0803,1)" font-size="20.50">3</text>
<text transform="translate(0,265.40) scale(0.9959,1)" x="34.27 52.42" font-size="29.20">10</text>
<text transform="translate(69.56,255.40) scale(1.2249,1)" font-size="20.50">−</text>
<text transform="translate(85.32,255.00) scale(1.0164,1)" font-size="20.50">4</text>
<text transform="translate(0,336.60) scale(0.9959,1)" x="34.27 52.42" font-size="29.20">10</text>
<text transform="translate(69.56,326.60) scale(1.2249,1)" font-size="20.50">−</text>
<text transform="translate(84.91,326.20) scale(1.0803,1)" font-size="20.50">5</text>
<text transform="translate(0,407.80) scale(0.9959,1)" x="34.27 52.42" font-size="29.20">10</text>
<text transform="translate(69.56,397.80) scale(1.2249,1)" font-size="20.50">−</text>
<text transform="translate(84.64,397.40) scale(1.1100,1)" font-size="20.50">6</text>
<text transform="translate(0,903.44) scale(0.9876,1)" x="55.74 73.15 82.37" font-size="29.50">0.0</text>
<text transform="translate(0,826.95) scale(0.9862,1)" x="55.95 73.63 82.96" font-size="29.50">0.1</text>
<text transform="translate(0,750.47) scale(0.9949,1)" x="55.43 73.06 82.13" font-size="29.50">0.2</text>
<text transform="translate(0,673.99) scale(0.9791,1)" x="56.36 74.02 83.52" font-size="29.50">0.3</text>
<text transform="translate(0,597.50) scale(0.9807,1)" x="56.14 73.55 82.77" font-size="29.50">0.4</text>
<text transform="translate(166.40,0) rotate(-90) scale(0.9618,1)" x="-1111.94 -1093.73 -1076.66 -1056.78 -1044.73 -1027.32 -1014.33 -996.68 -979.23" font-size="29.80">16B − 32B</text>
<text transform="translate(243.48,0) rotate(-90) scale(0.9674,1)" x="-1105.45 -1087.90 -1070.56 -1050.69 -1038.81 -1021.40 -1008.62 -990.66 -973.70" font-size="29.80">32B − 64B</text>
<text transform="translate(320.56,0) rotate(-90) scale(0.9683,1)" x="-1122.34 -1104.41 -1087.46 -1067.58 -1055.73 -1038.33 -1025.72 -1008.00 -989.69 -972.75" font-size="29.80">64B − 128B</text>
<text transform="translate(397.64,0) rotate(-90) scale(0.9584,1)" x="-1152.19 -1134.29 -1115.79 -1098.64 -1078.77 -1066.60 -1049.20 -1036.51 -1018.12 -999.88 -982.74" font-size="29.80">128B − 256B</text>
<text transform="translate(474.72,0) rotate(-90) scale(0.9513,1)" x="-1160.98 -1142.45 -1124.07 -1106.79 -1086.91 -1074.52 -1057.12 -1043.94 -1025.71 -1007.68 -990.02" font-size="29.80">256B − 512B</text>
<text transform="translate(551.80,0) rotate(-90) scale(0.9543,1)" x="-1119.77 -1101.61 -1083.63 -1066.03 -1046.15 -1033.86 -1016.46 -1003.41 -985.78" font-size="29.80">512B − 1K</text>
<text transform="translate(628.88,0) rotate(-90) scale(0.9744,1)" x="-1060.33 -1043.11 -1023.23 -1012.66 -995.26 -983.06 -965.62" font-size="29.80">1K − 2K</text>
<text transform="translate(705.96,0) rotate(-90) scale(0.9814,1)" x="-1053.05 -1035.75 -1015.88 -1005.51 -988.10 -975.74 -958.81" font-size="29.80">2K − 4K</text>
<text transform="translate(783.04,0) rotate(-90) scale(0.9893,1)" x="-1044.35 -1027.57 -1007.70 -997.55 -980.15 -968.02 -951.25" font-size="29.80">4K − 8K</text>
<text transform="translate(860.12,0) rotate(-90) scale(0.9852,1)" x="-1066.30 -1049.45 -1029.57 -1019.31 -1001.91 -989.81 -972.03 -955.17" font-size="29.80">8K − 16K</text>
<text transform="translate(937.20,0) rotate(-90) scale(0.9714,1)" x="-1099.43 -1081.39 -1064.26 -1044.38 -1033.72 -1016.32 -1003.62 -986.14 -968.64" font-size="29.80">16K − 32K</text>
<text transform="translate(1014.28,0) rotate(-90) scale(0.9766,1)" x="-1093.42 -1076.04 -1058.65 -1038.77 -1028.26 -1010.86 -998.35 -980.57 -963.54" font-size="29.80">32K − 64K</text>
<text transform="translate(1091.36,0) rotate(-90) scale(0.9765,1)" x="-1111.32 -1093.53 -1076.50 -1056.62 -1046.11 -1028.71 -1016.36 -998.78 -980.62 -963.59" font-size="29.80">64K − 128K</text>
<text transform="translate(1168.44,0) rotate(-90) scale(0.9659,1)" x="-1141.51 -1123.75 -1105.39 -1088.15 -1068.27 -1057.45 -1040.05 -1027.59 -1009.34 -991.25 -974.01" font-size="29.80">128K − 256K</text>
</g>
<rect x="960.2" y="526.7" width="225.3" height="209.2" rx="3.5" ry="3.5" fill="#fff" fill-opacity="0.8" stroke="#d3d3d3" stroke-width="1.6"/>
<text transform="translate(0,558.40) scale(0.9994,1)" x="1019.29 1039.67 1058.49 1067.42 1085.10 1099.85 1117.61" font-size="28.60">Dataset</text>
<rect x="970.4" y="579.4" width="55.1" height="19.2" fill="#1f77b4"/>
<text transform="translate(0,598.80) scale(1.0819,1)" x="968.92 976.86 986.17 1003.20 1012.56 1028.63 1035.28" font-size="28.60">f-droid</text>
<rect x="970.4" y="619.6" width="55.1" height="19.2" fill="#ff7f0e"/>
<text transform="translate(0,638.60) scale(1.0378,1)" x="1009.10 1025.86 1042.16 1058.60 1075.68 1082.85" font-size="28.60">google</text>
<rect x="970.4" y="660.0" width="55.1" height="19.0" fill="#2ca02c"/>
<text transform="translate(0,679.10) scale(0.9752,1)" x="1074.53 1094.03 1118.74" font-size="28.60">AMD</text>
<rect x="970.4" y="699.6" width="55.1" height="19.4" fill="#d62728"/>
<text transform="translate(0,719.70) scale(1.0213,1)" x="1024.56 1042.45 1059.34 1077.31 1087.40 1103.66 1118.06 1134.56" font-size="28.60">androzoo</text>
</svg></body></html>
